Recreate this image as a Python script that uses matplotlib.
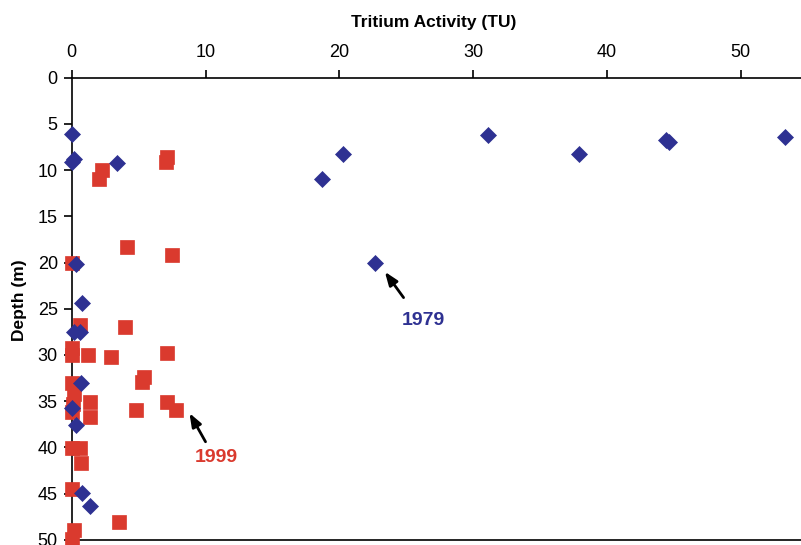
import matplotlib
matplotlib.use("Agg")
import matplotlib.pyplot as plt

plt.rcParams['font.family'] = ['Liberation Sans', 'DejaVu Sans']

# 1979 tritium profile (TU, depth m)
tu_1979 = [0.0, 0.0, 0.2, 3.4, 20.3, 18.7, 31.1, 37.9, 44.4, 44.6, 53.3, 22.7,
           0.3, 0.8, 0.2, 0.6, 0.7, 0.05, 0.3, 0.75, 1.4]
depth_1979 = [6.1, 9.1, 8.8, 9.2, 8.3, 11.0, 6.2, 8.3, 6.7, 7.0, 6.4, 20.1,
              20.2, 24.4, 27.5, 27.5, 33.0, 35.8, 37.6, 44.9, 46.4]

# 1999 tritium profile (TU, depth m)
tu_1999 = [7.1, 7.05, 2.3, 2.05, 4.1, 7.5, 0.0, 0.65, 4.0, 0.0, 0.0, 1.2, 2.9,
           7.1, 5.4, 5.25, 0.0, 0.2, 0.1, 0.0, 1.4, 1.4, 4.8, 7.1, 7.8,
           0.0, 0.6, 0.7, 0.0, 3.55, 0.15, 0.0]
depth_1999 = [8.55, 9.1, 10.0, 11.0, 18.3, 19.2, 20.0, 26.8, 27.0, 29.3, 30.0, 30.0, 30.2,
              29.8, 32.4, 32.9, 33.0, 34.2, 35.3, 36.2, 35.1, 36.7, 36.0, 35.1, 36.0,
              40.1, 40.1, 41.7, 44.5, 48.1, 48.9, 49.95]

xticks = [0, 10, 20, 30, 40, 50]
yticks = [0, 5, 10, 15, 20, 25, 30, 35, 40, 45, 50]

blue = '#2E3192'
red = '#DA3A2E'

fig = plt.figure(figsize=(8.01, 5.45), dpi=100)
ax = fig.add_axes([71.7 / 801, 1 - 539.7 / 545, 1 - 71.7 / 801, (539.7 - 77.7) / 545])

ax.plot(tu_1999, depth_1999, linestyle='none', marker='s', ms=10, color=red,
        mec=red, mew=0.5, clip_on=False, zorder=3)
ax.plot(tu_1979, depth_1979, linestyle='none', marker='D', ms=8.6, color=blue,
        mec=blue, mew=0.5, clip_on=False, zorder=4)

ax.set_xlim(0, 54.5)
ax.set_ylim(50, 0)
ax.xaxis.tick_top()
ax.set_xticks(xticks)
ax.set_yticks(yticks)
ax.tick_params(axis='both', direction='out', length=6, width=1.2, labelsize=13, colors='black')
ax.tick_params(axis='x', pad=6)
ax.tick_params(axis='y', pad=4)
for s in ['left', 'top', 'bottom']:
    ax.spines[s].set_linewidth(1.2)
ax.spines['right'].set_visible(False)

fig.text(434 / 801, 1 - 22 / 545, 'Tritium Activity (TU)', ha='center', va='center',
         fontsize=12.5, fontweight='bold')
fig.text(20 / 801, 1 - 300 / 545, 'Depth (m)', ha='center', va='center',
         rotation=90, fontsize=12.5, fontweight='bold')

arrow_style = dict(arrowstyle='-|>,head_length=0.8,head_width=0.3', color='black',
                   lw=2, shrinkA=0, shrinkB=0)
# 1979 annotation
ax.annotate('', xy=(23.4, 21.0), xytext=(24.8, 23.8), arrowprops=arrow_style)
ax.text(26.3, 26.3, '1979', ha='center', va='center', fontsize=14,
        fontweight='bold', color=blue)
# 1999 annotation
ax.annotate('', xy=(8.8, 36.3), xytext=(10.0, 39.4), arrowprops=arrow_style)
ax.text(10.8, 41.1, '1999', ha='center', va='center', fontsize=14,
        fontweight='bold', color=red)

fig.savefig('out.png', dpi=100)
